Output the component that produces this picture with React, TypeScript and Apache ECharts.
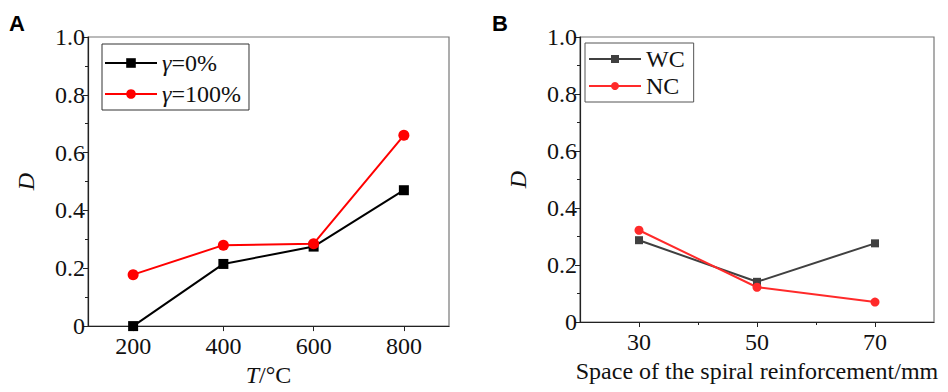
import React, { useEffect, useRef } from "react";
import * as echarts from "echarts";

const tempCategories = [200, 400, 600, 800];
const gamma0 = [0, 0.215, 0.275, 0.47];
const gamma100 = [0.178, 0.28, 0.285, 0.66];

const spacingCategories = [30, 50, 70];
const wcValues = [0.287, 0.141, 0.276];
const ncValues = [0.322, 0.122, 0.07];

const minorSpacingTicks = [40, 60];

const FONT = "Liberation Serif";

export default function App() {
  const ref = useRef<HTMLDivElement>(null);
  useEffect(() => {
    document.body.style.margin = "0";
    const chart = echarts.init(ref.current!, null, { renderer: "svg" });
    const axisLabelStyle = { fontFamily: FONT, fontSize: 24, color: "#111" };
    const yAxisCommon = (gridIndex: number) => ({
      type: "value",
      gridIndex,
      min: 0,
      max: 1,
      interval: 0.2,
      name: "D",
      nameLocation: "middle",
      nameGap: 50,
      nameTextStyle: { fontFamily: FONT, fontSize: 24, fontStyle: "italic", color: "#111" },
      axisLine: { show: true, lineStyle: { color: "#222", width: 1.2 } },
      axisTick: { show: true, length: 5, lineStyle: { color: "#222" } },
      minorTick: { show: true, splitNumber: 2, length: 3, lineStyle: { color: "#222" } },
      splitLine: { show: false },
      axisLabel: {
        ...axisLabelStyle,
        margin: 3,
        formatter: (v: number) => (v === 0 ? "0" : v.toFixed(1)),
      },
    });
    chart.setOption({
      animation: false,
      title: [
        {
          text: "A",
          left: 9,
          top: 12,
          padding: 0,
          textStyle: { fontFamily: "sans-serif", fontWeight: "bold", fontSize: 22, color: "#000" },
        },
        {
          text: "B",
          left: 492,
          top: 12,
          padding: 0,
          textStyle: { fontFamily: "sans-serif", fontWeight: "bold", fontSize: 22, color: "#000" },
        },
      ],
      grid: [
        { left: 88, top: 37, width: 361, height: 290, show: true, borderColor: "#777", borderWidth: 1.2 },
        { left: 580, top: 37, width: 354, height: 285, show: true, borderColor: "#777", borderWidth: 1.2 },
      ],
      xAxis: [
        {
          type: "value",
          gridIndex: 0,
          min: 100,
          max: 900,
          interval: 100,
          name: "{i|T}{n|/°C}",
          nameLocation: "middle",
          nameGap: 36,
          nameTextStyle: {
            rich: {
              i: { fontFamily: FONT, fontSize: 24, fontStyle: "italic", color: "#111" },
              n: { fontFamily: FONT, fontSize: 24, color: "#111" },
            },
          },
          axisLine: { show: true, lineStyle: { color: "#222", width: 1.2 } },
          axisTick: { show: true, length: 5, customValues: tempCategories, lineStyle: { color: "#222" } },
          splitLine: { show: false },
          axisLabel: {
            ...axisLabelStyle,
            margin: 8,
            formatter: (v: number) => (tempCategories.includes(v) ? String(v) : ""),
          },
        },
        {
          type: "value",
          gridIndex: 1,
          min: 20,
          max: 80,
          interval: 10,
          name: "Space of the spiral reinforcement/mm",
          nameLocation: "middle",
          nameGap: 37,
          nameTextStyle: { fontFamily: FONT, fontSize: 24, color: "#111" },
          axisLine: { show: true, lineStyle: { color: "#222", width: 1.2 } },
          axisTick: { show: true, length: 5, customValues: spacingCategories, lineStyle: { color: "#222" } },
          splitLine: { show: false },
          axisLabel: {
            ...axisLabelStyle,
            margin: 8,
            formatter: (v: number) => (spacingCategories.includes(v) ? String(v) : ""),
          },
        },
        {
          type: "value",
          gridIndex: 1,
          min: 20,
          max: 80,
          position: "bottom",
          axisLine: { show: false },
          axisTick: { show: true, length: 3, customValues: minorSpacingTicks, lineStyle: { color: "#222" } },
          splitLine: { show: false },
          axisLabel: { show: false },
        },
      ],
      yAxis: [yAxisCommon(0), yAxisCommon(1)],
      legend: [
        {
          orient: "vertical",
          left: 102,
          top: 44,
          padding: [6, 8, 3, 2],
          itemGap: 5,
          itemWidth: 52,
          itemHeight: 12,
          borderColor: "#333",
          borderWidth: 1,
          borderRadius: 0,
          data: ["γ=0%", "γ=100%"],
          formatter: (name: string) => "{i|γ}{n|" + name.slice(1) + "}",
          textStyle: {
            fontFamily: FONT,
            fontSize: 24,
            color: "#111",
            lineHeight: 26,
            rich: {
              i: { fontFamily: FONT, fontSize: 24, fontStyle: "italic", color: "#111", lineHeight: 26 },
              n: { fontFamily: FONT, fontSize: 24, color: "#111", lineHeight: 26 },
            },
          },
        },
        {
          orient: "vertical",
          left: 585,
          top: 43,
          padding: [4, 9, 4, 3],
          itemGap: 3,
          itemWidth: 52,
          itemHeight: 10,
          borderColor: "#555",
          borderWidth: 1,
          borderRadius: 0,
          data: ["WC", "NC"],
          textStyle: { fontFamily: FONT, fontSize: 24, color: "#111", lineHeight: 24 },
        },
      ],
      series: [
        {
          name: "γ=0%",
          type: "line",
          xAxisIndex: 0,
          yAxisIndex: 0,
          data: tempCategories.map((x, i) => [x, gamma0[i]]),
          symbol: "rect",
          symbolSize: 10,
          lineStyle: { color: "#000", width: 2 },
          itemStyle: { color: "#000" },
          clip: false,
        },
        {
          name: "γ=100%",
          type: "line",
          xAxisIndex: 0,
          yAxisIndex: 0,
          data: tempCategories.map((x, i) => [x, gamma100[i]]),
          symbol: "circle",
          symbolSize: 11,
          lineStyle: { color: "#ff0000", width: 2 },
          itemStyle: { color: "#ff0000" },
        },
        {
          name: "WC",
          type: "line",
          xAxisIndex: 1,
          yAxisIndex: 1,
          data: spacingCategories.map((x, i) => [x, wcValues[i]]),
          symbol: "rect",
          symbolSize: 8,
          lineStyle: { color: "#404040", width: 2 },
          itemStyle: { color: "#404040" },
        },
        {
          name: "NC",
          type: "line",
          xAxisIndex: 1,
          yAxisIndex: 1,
          data: spacingCategories.map((x, i) => [x, ncValues[i]]),
          symbol: "circle",
          symbolSize: 9,
          lineStyle: { color: "#ff2a2a", width: 2 },
          itemStyle: { color: "#ff2a2a" },
        },
      ],
    });
    return () => chart.dispose();
  }, []);
  return <div ref={ref} style={{ width: 948, height: 392 }} />;
}
